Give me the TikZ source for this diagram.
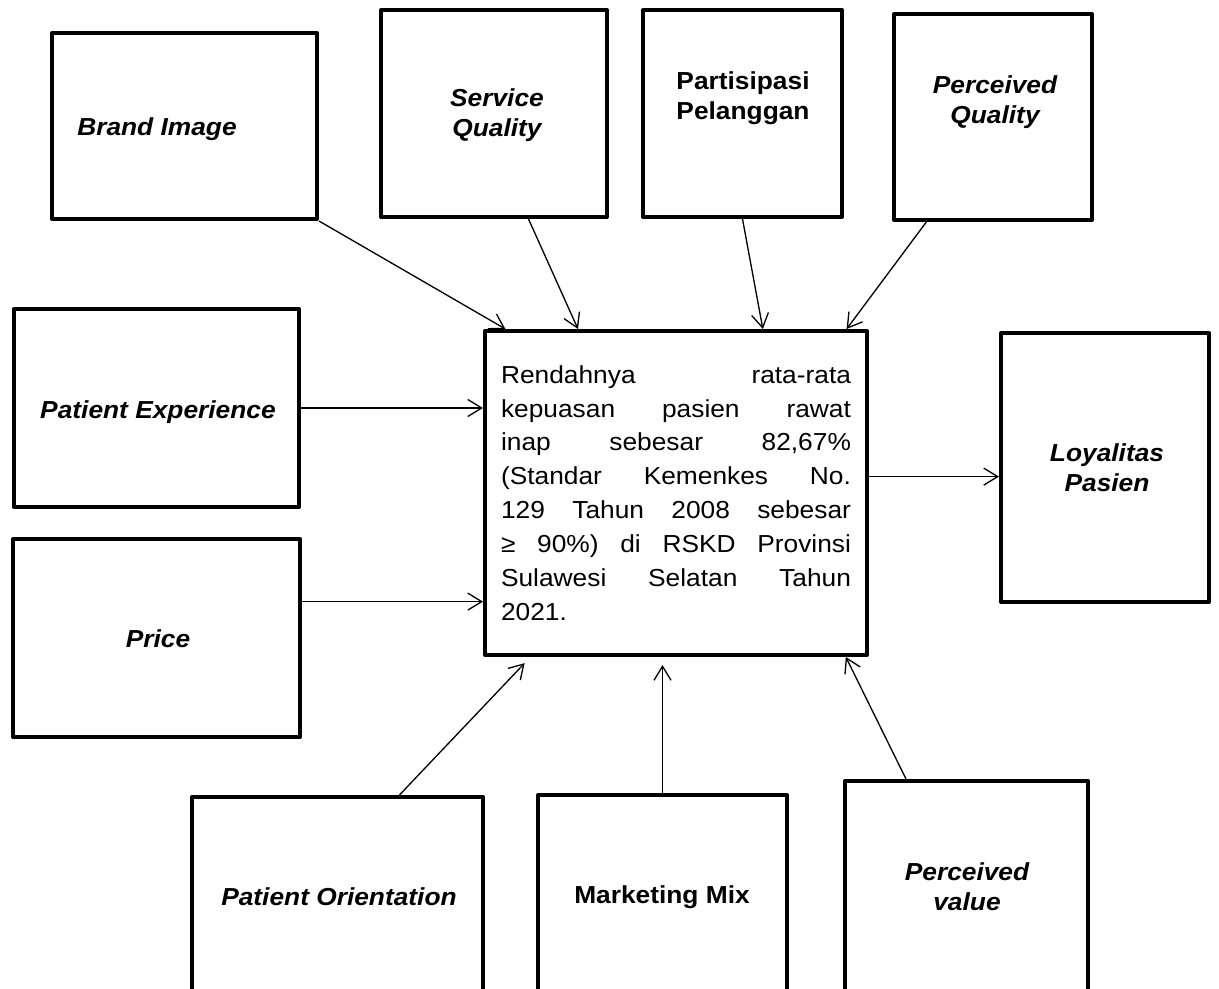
\documentclass[tikz,border=0pt]{standalone}
\usepackage{fontspec}
\setmainfont{Liberation Sans}[FakeStretch=1.07]
\usetikzlibrary{arrows.meta,fit,calc}

\begin{document}
\begin{tikzpicture}[x=0.02cm,y=-0.02cm,
        box/.style={draw, line width=2.3pt, inner sep=0pt, line join=round},
        lbl/.style={font=\fontsize{14}{17}\selectfont\bfseries\itshape, align=center},
        arr/.style={-{Straight Barb[length=2.8mm,width=3.4mm]}, line width=0.75pt}]
        \useasboundingbox (0,0) rectangle (1219,989);

        % Draw the factor boxes
        \foreach \nm/\a/\b in {brand/{52,33}/{317,219}, serv/{381,10}/{607,217},
                part/{643,10}/{842,217}, pq/{894,14}/{1092,220},
                pe/{14,309}/{299,507}, price/{13,539}/{300,737},
                loy/{1001,333}/{1209,602}}
            \node[box, fit={(\a) (\b)}] (\nm) {};

        % Bottom boxes run off the page
        \begin{scope}
            \clip (0,0) rectangle (1219,989);
            \foreach \nm/\a/\b in {po/{192,797}/{483,1010}, mm/{538,795}/{787,1010},
                    pv/{845,781}/{1088,1010}}
                \node[box, fit={(\a) (\b)}] (\nm) {};
        \end{scope}

        % The central problem box
        \node[box, minimum width=7.64cm, minimum height=6.48cm, inner xsep=0.32cm,
            text width=7cm, align=justify, font=\fontsize{14}{19.3}\selectfont]
            (cen) at (676,493) {\noindent Rendahnya rata-rata\linebreak
            kepuasan pasien rawat\linebreak inap sebesar 82,67\%\linebreak
            (Standar Kemenkes No.\linebreak 129 Tahun 2008 sebesar\linebreak
            ≥ 90\%) di RSKD Provinsi\linebreak Sulawesi Selatan Tahun\linebreak 2021.};

        % Box labels
        \node[lbl] (brandtxt) at (157,129) {Brand Image};
        \node[lbl] (servtxt) at (497,115) {Service\\Quality};
        \node[lbl, font=\fontsize{14}{17}\selectfont\bfseries] (parttxt) at (743,98) {Partisipasi\\Pelanggan};
        \node[lbl] (pqtxt) at (995,102) {Perceived\\Quality};
        \node[lbl] (petxt) at (158,412) {Patient Experience};
        \node[lbl] (pricetxt) at (158,639) {Price};
        \node[lbl] (loytxt) at (1107,468) {Loyalitas\\Pasien};
        \node[lbl] (potxt) at (339,897) {Patient Orientation};
        \node[lbl, font=\fontsize{14}{17}\selectfont\bfseries] (mmtxt) at (662,897) {Marketing Mix};
        \node[lbl] (pvtxt) at (967,887) {Perceived\\value};

        % Arrows into the central box
        \draw[arr] (brand.south east) -- ($(cen.north west)!.058!(cen.north east)$);
        \draw[arr] ($(serv.south west)!.65!(serv.south east)$) -- ($(cen.north west)!.246!(cen.north east)$);
        \draw[arr] (part.south) -- ($(cen.north west)!.725!(cen.north east)$);
        \draw[arr] ($(pq.south west)!.17!(pq.south east)$) -- ($(cen.north west)!.942!(cen.north east)$);
        \draw[arr] (pe.east) -- (pe.east -| cen.west);
        \coordinate (pr) at ($(price.north east)!.32!(price.south east)$);
        \draw[arr] (pr) -- (pr -| cen.west);
        \draw[arr, shorten >=0.17cm] ($(po.north west)!.71!(po.north east)$) -- ($(cen.south west)!.123!(cen.south east)$);
        \draw[arr, shorten >=0.16cm] (mm.north) -- (mm.north |- cen.south);
        \draw[arr] ($(pv.north west)!.255!(pv.north east)$) -- ($(cen.south west)!.94!(cen.south east)$);

        % Arrow out to Loyalitas Pasien
        \coordinate (out) at ($(cen.north east)!.45!(cen.south east)$);
        \draw[arr] (out) -- (out -| loy.west);
\end{tikzpicture}
\end{document}
